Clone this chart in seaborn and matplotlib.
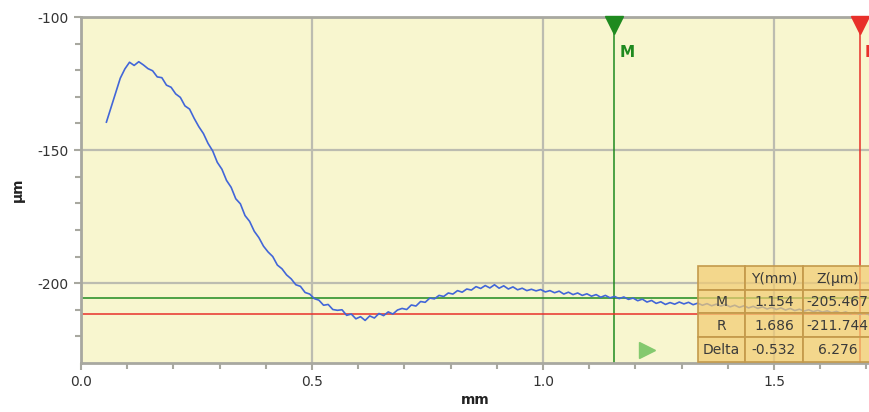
import numpy as np
import pandas as pd
import matplotlib
matplotlib.use("Agg")
import matplotlib.pyplot as plt
from matplotlib.patches import Rectangle
import seaborn as sns

# Surface profile (Y in mm, Z in µm), sampled every 0.01 mm from 0.055 mm
profile_start_mm = 0.055
profile_step_mm = 0.01
profile_z = [
    -139.5, -134.0, -128.5, -123.0, -119.5, -117.0, -118.2, -116.8, -118.0, -119.4,
    -120.2, -122.5, -122.8, -125.6, -126.4, -128.9, -130.2, -133.4, -134.6, -138.1,
    -141.2, -143.8, -147.5, -150.3, -154.6, -157.2, -161.4, -164.0, -168.3, -170.2,
    -174.6, -176.8, -180.5, -182.9, -186.1, -188.3, -190.0, -193.2, -194.6, -196.9,
    -198.4, -200.6, -201.2, -203.5, -204.1, -205.8, -206.4, -208.3, -208.0, -209.9,
    -210.2, -210.0, -212.1, -211.6, -213.4, -212.6, -214.0, -212.3, -213.1, -211.4,
    -212.2, -210.8, -211.6, -210.1, -209.5, -209.9, -208.2, -208.6, -206.9, -207.2,
    -205.6, -205.9, -204.6, -205.0, -203.7, -204.1, -202.8, -203.4, -202.2, -202.6,
    -201.3, -202.0, -200.9, -201.8, -200.6, -201.9, -201.0, -202.2, -201.4, -202.5,
    -201.9, -202.8, -202.3, -202.9, -202.4, -203.3, -202.8, -203.6, -203.0, -204.1,
    -203.4, -204.3, -203.7, -204.6, -204.0, -204.9, -204.3, -205.3, -204.6, -205.5,
    -205.0, -205.8, -205.2, -206.1, -205.6, -206.6, -206.0, -207.1, -206.5, -207.6,
    -207.0, -208.0, -207.3, -207.9, -207.1, -207.8, -207.2, -208.1, -207.5, -208.3,
    -207.7, -208.5, -207.9, -208.6, -208.0, -208.9, -208.3, -209.1, -208.5, -209.3,
    -208.7, -209.5, -208.9, -209.7, -209.1, -209.9, -209.3, -210.1, -209.5, -210.3,
    -209.8, -210.5, -210.0, -210.7, -210.2, -210.9, -210.4, -211.1, -210.6, -211.3,
    -210.8, -211.5, -211.0, -211.7, -211.2, -211.8,
]

# Measurement cursors
cursor_names = ["M", "R"]
cursor_y_mm = [1.154, 1.686]
cursor_z_um = [-205.467, -211.744]
cursor_colors = ["#1f8a1f", "#e8302a"]
# Differences as reported by the instrument (M - R)
delta_y_mm = -0.532
delta_z_um = 6.276

x_ticks = [0.0, 0.5, 1.0, 1.5]
y_ticks = [-100, -150, -200]

profile_y = profile_start_mm + profile_step_mm * np.arange(len(profile_z))
df = pd.DataFrame({"Y (mm)": profile_y, "Z (µm)": profile_z})

W, H = 870, 412
fig = plt.figure(figsize=(W / 100, H / 100), dpi=100)
fig.patch.set_facecolor("white")

def px(x, y):
    """Pixel position (from top-left) to figure fraction."""
    return x / W, 1 - y / H

ax_left, ax_top, ax_bottom = 81, 17, 363
xmax = 1.708
ax_w_px = xmax * 462
ax = fig.add_axes([ax_left / W, 1 - ax_bottom / H, ax_w_px / W, (ax_bottom - ax_top) / H])
ax.set_facecolor("#f8f6cf")

ax.set_xlim(0, xmax)
ax.set_ylim(-230, -100)

# grid
grid_c = "#bcbcb0"
for xv in x_ticks:
    ax.axvline(xv, color=grid_c, lw=1.6, zorder=1)
for yv in y_ticks:
    ax.axhline(yv, color=grid_c, lw=1.6, zorder=1)

# cursor lines
for name, cy, cz, col in zip(cursor_names, cursor_y_mm, cursor_z_um, cursor_colors):
    ax.axhline(cz, color=col, lw=1.1, zorder=2)
    ax.axvline(cy, color=col, lw=1.1, zorder=2)

sns.lineplot(data=df, x="Y (mm)", y="Z (µm)", ax=ax, color="#4266d8",
             lw=1.2, zorder=3, estimator=None, sort=False)

# cursor markers and labels
for name, cy, cz, col in zip(cursor_names, cursor_y_mm, cursor_z_um, cursor_colors):
    ax.plot([cy], [-103.0], marker="v", ms=13, color=col, mec=col, zorder=5,
            clip_on=False)
    ax.text(cy + 0.011, -113.2, name, color=col, fontsize=11, fontweight="bold",
            va="center", ha="left", zorder=5, clip_on=False)

ax.plot([1.225], [-225.2], marker=">", ms=12, color="#84c96e", mec="#84c96e",
        zorder=5)

# axes styling
spine_c = "#a8a8a0"
for side in ["left", "bottom", "top"]:
    ax.spines[side].set_color(spine_c)
    ax.spines[side].set_linewidth(2)
ax.spines["right"].set_visible(False)
ax.set_xticks(x_ticks)
ax.set_xticklabels([f"{v:.1f}" for v in x_ticks])
ax.set_yticks(y_ticks)
ax.set_yticklabels([str(v) for v in y_ticks])
ax.set_xticks(np.arange(0.1, 1.71, 0.1), minor=True)
ax.set_yticks(np.arange(-220, -99, 10), minor=True)
ax.tick_params(which="both", direction="out", color=spine_c, width=1.5,
               labelsize=10, labelcolor="#333333")
ax.tick_params(which="major", length=5, pad=4)
ax.tick_params(which="minor", length=4)
ax.set_xlabel("")
ax.set_ylabel("")
fig.text(*px(475, 400), "mm", ha="center", va="center", fontsize=10,
         fontweight="bold", color="#222222")
fig.text(*px(18, 190), "µm", ha="center", va="center", fontsize=10,
         fontweight="bold", color="#222222", rotation=90)

# readout table
col_edges = [698, 745, 803, 872]
row_edges = [266, 290, 313, 337, 362]
table_rows = [
    ["", "Y(mm)", "Z(µm)"],
    [cursor_names[0], f"{cursor_y_mm[0]:.3f}", f"{cursor_z_um[0]:.3f}"],
    [cursor_names[1], f"{cursor_y_mm[1]:.3f}", f"{cursor_z_um[1]:.3f}"],
    ["Delta", f"{delta_y_mm:.3f}", f"{delta_z_um:.3f}"],
]
for r, row in enumerate(table_rows):
    for c, txt in enumerate(row):
        x0, x1 = col_edges[c], col_edges[c + 1]
        y0, y1 = row_edges[r], row_edges[r + 1]
        fx0, fy1 = px(x0, y1)
        rect = Rectangle((fx0, fy1), (x1 - x0) / W, (y1 - y0) / H,
                         transform=fig.transFigure, facecolor=(0.95, 0.80, 0.45, 0.72),
                         edgecolor="#c49a4c", lw=1.2, zorder=10)
        fig.add_artist(rect)
        if txt:
            fig.text(*px((x0 + x1) / 2, (y0 + y1) / 2 + 1), txt, ha="center",
                     va="center", fontsize=10, color="#3a3a3a", zorder=11)

fig.savefig("out.png", dpi=100)
